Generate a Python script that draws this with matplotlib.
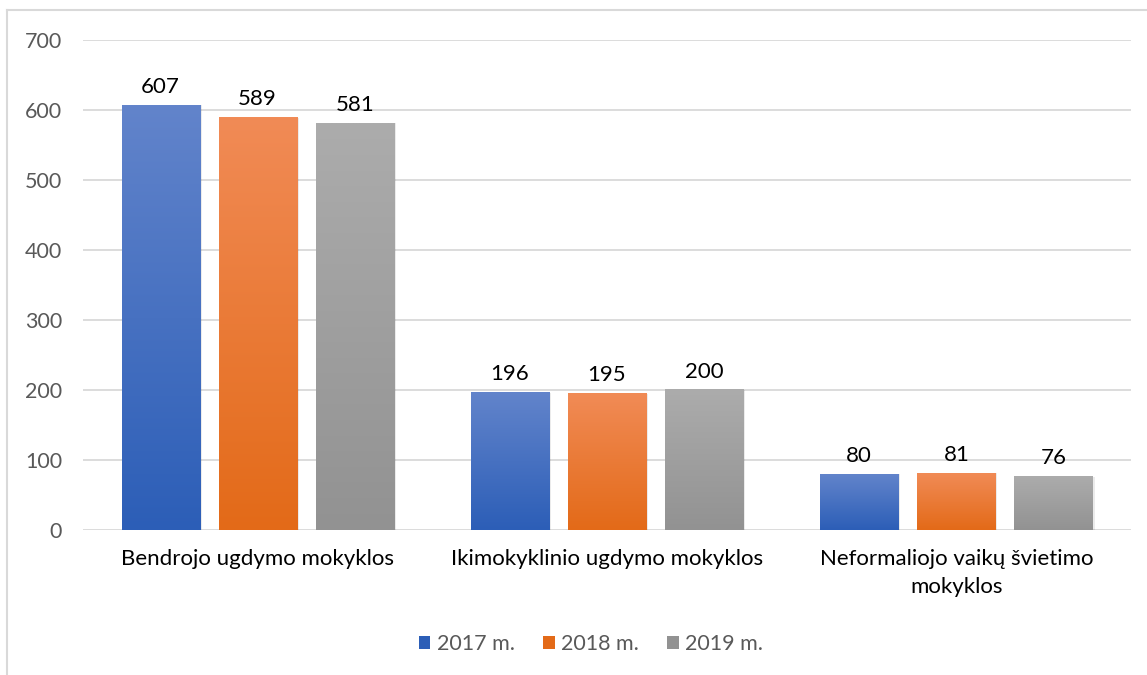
import numpy as np
import matplotlib.pyplot as plt
from matplotlib.colors import LinearSegmentedColormap
from matplotlib.lines import Line2D
from matplotlib.patches import Patch

categories = ['Bendrojo ugdymo mokyklos', 'Ikimokyklinio ugdymo mokyklos',
              'Neformaliojo vaikų švietimo\nmokyklos']
years = ['2017 m.', '2018 m.', '2019 m.']
v2017 = [607, 196, 80]
v2018 = [589, 195, 81]
v2019 = [581, 200, 76]
yticks = [0, 100, 200, 300, 400, 500, 600, 700]

# top / bottom colours of the gradient fill
grad = [('#6284CB', '#2C5EB7'), ('#F18B56', '#E36A18'), ('#ACACAC', '#929292')]

plt.rcParams['font.family'] = ['Lato', 'DejaVu Sans']

fig = plt.figure(figsize=(11.47, 6.75), dpi=100)
ax = fig.add_axes([83 / 1147, 1 - 530 / 675, (1131 - 83) / 1147, 490 / 675])

x = np.arange(len(categories))
width = 0.2235
step = 0.278
series = [v2017, v2018, v2019]

for i, vals in enumerate(series):
    pos = x + (i - 1) * step
    bars = ax.bar(pos, vals, width, color='none', zorder=3)
    cmap = LinearSegmentedColormap.from_list('g%d' % i, [grad[i][1], grad[i][0]])
    for b, v in zip(bars, vals):
        x0 = b.get_x()
        # soft shadow on the right side
        ax.bar(x0 + width / 2 + 0.006, v, width, color='#000000', alpha=0.08, zorder=2)
        ax.imshow(np.linspace(0, 1, 256).reshape(-1, 1), cmap=cmap, origin='lower',
                  extent=[x0, x0 + width, 0, v], aspect='auto', zorder=3)
        ax.text(x0 + width / 2, v + 12, str(v), ha='center', va='bottom',
                fontsize=16, color='#000000', zorder=4)

ax.set_xlim(-0.5, 2.5)
ax.set_ylim(0, 700)
ax.set_yticks(yticks)
ax.set_yticklabels([str(t) for t in yticks], fontsize=15.5, color='#595959')
ax.set_xticks(x)
ax.set_xticklabels(categories, fontsize=16, color='#000000', linespacing=1.45)
ax.tick_params(axis='both', length=0)
ax.tick_params(axis='y', pad=15)
ax.tick_params(axis='x', pad=14)
ax.grid(axis='y', color='#D9D9D9', linewidth=1.3, zorder=0)
for s in ax.spines.values():
    s.set_visible(False)

handles = [Patch(facecolor=grad[i][1], edgecolor='none') for i in range(3)]
fig.legend(handles, years, loc='center', bbox_to_anchor=(591 / 1147, 1 - 644 / 675),
           ncol=3, frameon=False, fontsize=15.5, labelcolor='#595959',
           handlelength=0.55, handleheight=0.55, handletextpad=0.3, columnspacing=1.3)

# outer chart border (left and top visible)
fig.add_artist(Line2D([7 / 1147, 7 / 1147], [0, 1 - 10 / 675], color='#D9D9D9', lw=1.5))
fig.add_artist(Line2D([7 / 1147, 1], [1 - 10 / 675, 1 - 10 / 675], color='#D9D9D9', lw=1.5))

fig.savefig('out.png', dpi=100)
